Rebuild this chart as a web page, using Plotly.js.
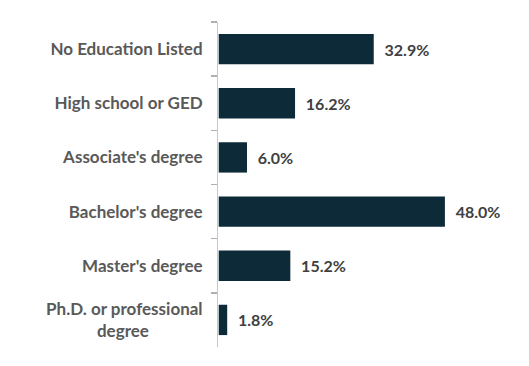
<!DOCTYPE html>
<html>
<head>
<meta charset="utf-8">
<script src="https://cdn.plot.ly/plotly-3.0.1.min.js"></script>
<style>html,body{margin:0;padding:0;background:#fff;}#chart{width:529px;height:366px;}</style>
</head>
<body>
<div id="chart"></div>
<script>
const categories = [
  "No Education Listed",
  "High school or GED",
  "Associate's degree",
  "Bachelor's degree",
  "Master's degree",
  "Ph.D. or professional<br>degree\u00a0\u00a0\u00a0\u00a0\u00a0\u00a0\u00a0\u00a0\u00a0\u00a0\u00a0\u00a0\u00a0"
];
const values = [32.9, 16.2, 6.0, 48.0, 15.2, 1.8];
const valueLabels = values.map(v => "\u00a0\u00a0" + v.toFixed(1) + "%");

const trace = {
  type: "bar",
  orientation: "h",
  y: categories,
  x: values,
  text: valueLabels,
  textposition: "outside",
  cliponaxis: false,
  textfont: {family: "Lato, 'Open Sans', sans-serif", size: 16, color: "#404040", weight: "bold"},
  marker: {color: "#0c2a37"},
  hoverinfo: "none"
};

const layout = {
  width: 529, height: 366,
  margin: {l: 218, r: 12, t: 22, b: 19},
  paper_bgcolor: "#ffffff", plot_bgcolor: "#ffffff",
  bargap: 0.44,
  showlegend: false,
  xaxis: {range: [-0.15, 63.3], visible: false, showgrid: false, zeroline: false},
  yaxis: {
    type: "category",
    autorange: "reversed",
    showline: true, linecolor: "#c8c8c8", linewidth: 1,
    ticks: "outside", tickson: "boundaries", ticklen: 6, tickcolor: "#b0b0b0", tickwidth: 1.5,
    showgrid: false, zeroline: false,
    ticklabelstandoff: 11,
    tickfont: {family: "Lato, 'Open Sans', sans-serif", size: 17, color: "#595959", weight: "bold"}
  }
};

Plotly.newPlot("chart", [trace], layout, {displayModeBar: false, staticPlot: true});
</script>
</body>
</html>
